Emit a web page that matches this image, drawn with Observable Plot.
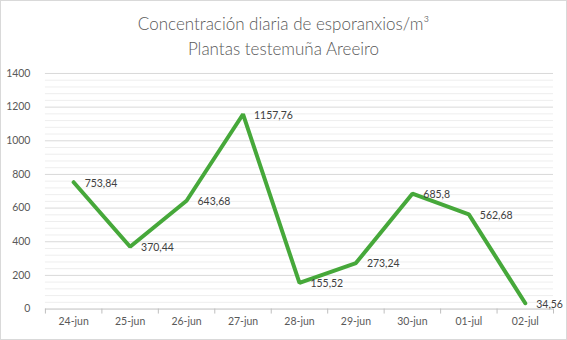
<!DOCTYPE html>
<html>
<head>
<meta charset="utf-8">
<script src="https://cdn.jsdelivr.net/npm/d3@7"></script>
<script src="https://cdn.jsdelivr.net/npm/@observablehq/plot@0.6"></script>
<style>
  html, body { margin: 0; padding: 0; background: #fff; }
  #wrap { position: relative; width: 567px; height: 340px; box-sizing: border-box; border: 1px solid #d9d9d9; background: #fff; overflow: hidden; }
  #title { position: absolute; left: 0; top: 0; width: 565px; height: 57px; text-align: center; font-family: Lato, sans-serif; font-weight: 300; font-size: 17px; color: #595959; line-height: 25px; padding-top: 10px; box-sizing: border-box; }
  #chart { position: absolute; left: -1px; top: 57px; }
</style>
</head>
<body>
<div id="wrap">
  <div id="title">Concentración diaria de esporanxios/m³<br>Plantas testemuña Areeiro</div>
  <div id="chart"></div>
</div>
<script>
const dates = ["24-jun", "25-jun", "26-jun", "27-jun", "28-jun", "29-jun", "30-jun", "01-jul", "02-jul"];
const values = [753.84, 370.44, 643.68, 1157.76, 155.52, 273.24, 685.8, 562.68, 34.56];
const labels = ["753,84", "370,44", "643,68", "1157,76", "155,52", "273,24", "685,8", "562,68", "34,56"];
const yMajor = [0, 200, 400, 600, 800, 1000, 1200, 1400];
const yMinorStep = 40;

const data = dates.map((d, i) => ({i, date: d, value: values[i], label: labels[i]}));
const n = dates.length;
const minor = d3.range(0, 1400 + 1, yMinorStep).filter(v => v % 200 !== 0);
const bounds = d3.range(n + 1).map(k => k - 0.5);

const chart = Plot.plot({
  width: 567,
  height: 283,
  marginTop: 15,
  marginBottom: 32,
  marginLeft: 45,
  marginRight: 13,
  style: {fontFamily: "Lato, sans-serif", background: "transparent"},
  x: {domain: [-0.5, n - 0.5], axis: null, label: null},
  y: {domain: [0, 1400], axis: null, label: null},
  marks: [
    Plot.ruleY(minor, {stroke: "#eeeeee", strokeWidth: 1}),
    Plot.ruleY(yMajor.filter(v => v > 0), {stroke: "#d9d9d9", strokeWidth: 1}),
    Plot.ruleY([0], {stroke: "#bfbfbf", strokeWidth: 1}),
    Plot.axisX(bounds, {tickSize: 5, tickFormat: () => "", stroke: "#bfbfbf", tickPadding: 0, label: null}),
    Plot.axisX(d3.range(n), {tickSize: 0, tickPadding: 9, tickFormat: i => dates[i], fontSize: 10.5, fill: "#595959", label: null}),
    Plot.axisY(yMajor, {tickSize: 0, tickPadding: 15, fontSize: 10.5, fill: "#595959", tickFormat: d => String(d), label: null}),
    Plot.line(data, {x: "i", y: "value", stroke: "#46a83a", strokeWidth: 4, strokeLinejoin: "miter", strokeLinecap: "round"}),
    Plot.text(data, {x: "i", y: "value", text: "label", textAnchor: "start", dx: 11, dy: 1, fontSize: 10.5, fill: "#404040"})
  ]
});
document.getElementById("chart").appendChild(chart);
</script>
</body>
</html>
